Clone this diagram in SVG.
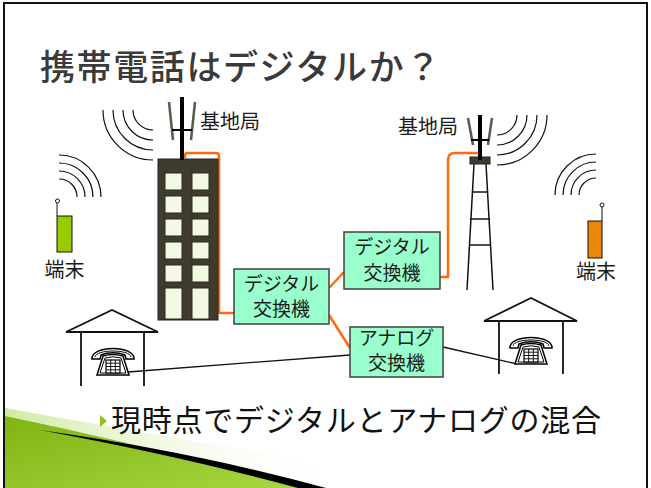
<svg xmlns="http://www.w3.org/2000/svg" width="651" height="488" viewBox="0 0 651 488">
  <style>
    .jp { font-family: "Noto Sans CJK JP", "Noto Sans", sans-serif; fill: #1a1a1a; }
    .lbl { font-size: 20px; }
    .box { fill: #99ffcc; stroke: #404040; stroke-width: 1.5; }
    .boxtxt { font-size: 19px; text-anchor: middle; }
    .wave { fill: none; stroke: #111; stroke-width: 1.2; }
    .orange { fill: none; stroke: #ff6a10; stroke-width: 2.5; stroke-linejoin: round; }
    .wire { fill: none; stroke: #111; stroke-width: 1.3; }
    .win { fill: #f2f8e2; stroke: #2a281f; stroke-width: 1; }
    .ant { stroke: #000; stroke-width: 4; }
    .fin { stroke: #5a5848; stroke-width: 2.5; }
    .house { fill: none; stroke: #111; stroke-width: 1.8; }
  </style>
  <defs>
    <linearGradient id="grass" x1="0" y1="0" x2="1" y2="1">
      <stop offset="0" stop-color="#7fb414"/>
      <stop offset="1" stop-color="#a8d640"/>
    </linearGradient>
    <linearGradient id="fade" x1="0" y1="0" x2="1" y2="0">
      <stop offset="0" stop-color="#d2e9a2"/>
      <stop offset="1" stop-color="#ffffff" stop-opacity="0"/>
    </linearGradient>
    <!-- desk telephone, centred on its own origin -->
    <g id="telephone">
      <path d="M-10,-5 Q0,-8 10,-5 L16,14 L-16,14 Z" fill="#fff" stroke="#000" stroke-width="1.5"/>
      <path d="M-8,-3 Q0,-5.5 8,-3 L13,12 L-13,12 Z" fill="none" stroke="#000" stroke-width="1"/>
      <path d="M-21,-2 C-22,-16 22,-16 21,-2 L13,-2 L12,-6 C5,-9 -5,-9 -12,-6 L-13,-2 Z" fill="#fff" stroke="#000" stroke-width="1.5"/>
      <path d="M-18,-4 C-17,-12 17,-12 18,-4" fill="none" stroke="#000" stroke-width="1"/>
      <rect x="-7" y="-1" width="14" height="13" fill="#fff" stroke="#000" stroke-width="1.2"/>
      <path d="M-2.3,-1 V12 M2.3,-1 V12 M-7,2.2 H7 M-7,5.5 H7 M-7,8.8 H7" stroke="#000" stroke-width="0.9"/>
    </g>
  </defs>

  <rect width="651" height="488" fill="#fff"/>

  <!-- slide frame -->
  <rect x="4" y="3" width="643" height="500" fill="none" stroke="#111" stroke-width="2"/>

  <!-- corner swoosh -->
  <g id="swoosh">
    <path d="M5,408 Q170,438 345,466 L345,488 L5,488 Z" fill="url(#fade)"/>
    <path d="M5,416 Q150,446 302,488 L5,488 Z" fill="url(#grass)"/>
    <path d="M40,430 Q180,456 298,488 L326,488 Q195,452 40,430 Z" fill="#000"/>
  </g>

  <!-- heading -->
  <g id="title">
    <text x="40" y="80" font-family="'Noto Sans CJK JP', sans-serif" font-size="35" font-weight="500" fill="#3a3a3a" letter-spacing="1.6">携帯電話はデジタルか？</text>
  </g>

  <!-- connectors -->
  <g id="connectors">
    <path class="orange" d="M185,158 V155 Q185,153 188,153 H216 Q219,153 219,156 V313 H234"/>
    <path class="orange" d="M440,277 H448 V160 Q448,153 455,153 H478"/>
    <path class="orange" d="M329,288 L344,272"/>
    <path class="orange" d="M329,315 L350,348"/>
    <path class="wire" d="M128,372 L350,355"/>
    <path class="wire" d="M443,347 L517,364"/>
  </g>

  <!-- office building with rooftop antenna -->
  <g id="building-left">
    <g class="wave">
      <path d="M133,110 A20,20 0 0 0 153,130"/>
      <path d="M123,110 A30,30 0 0 0 153,140"/>
      <path d="M113,110 A40,40 0 0 0 153,150"/>
      <path d="M103,110 A50,50 0 0 0 153,160"/>
    </g>
    <rect x="158" y="159" width="60" height="161" fill="#3f3b2e" stroke="#222" stroke-width="1"/>
    <g>
      <rect class="win" x="165" y="173" width="17" height="17"/>
      <rect class="win" x="192" y="173" width="17" height="17"/>
      <rect class="win" x="165" y="196" width="17" height="17"/>
      <rect class="win" x="192" y="196" width="17" height="17"/>
      <rect class="win" x="165" y="219" width="17" height="17"/>
      <rect class="win" x="192" y="219" width="17" height="17"/>
      <rect class="win" x="165" y="242" width="17" height="17"/>
      <rect class="win" x="192" y="242" width="17" height="17"/>
      <rect class="win" x="165" y="265" width="17" height="17"/>
      <rect class="win" x="192" y="265" width="17" height="17"/>
      <rect class="win" x="165" y="288" width="17" height="31"/>
      <rect class="win" x="192" y="288" width="17" height="31"/>
    </g>
    <line class="fin" x1="169" y1="102" x2="173" y2="140"/>
    <line class="fin" x1="195" y1="102" x2="191" y2="140"/>
    <line class="ant" x1="182" y1="97" x2="182" y2="160"/>
    <line x1="172" y1="130" x2="192" y2="130" stroke="#000" stroke-width="2"/>
    <text class="jp lbl" x="200" y="129">基地局</text>
  </g>

  <!-- lattice tower -->
  <g id="tower-right">
    <g class="wave">
      <path d="M517,115 A20,20 0 0 1 497,135"/>
      <path d="M527,115 A30,30 0 0 1 497,145"/>
      <path d="M537,115 A40,40 0 0 1 497,155"/>
      <path d="M547,115 A50,50 0 0 1 497,165"/>
    </g>
    <g stroke="#111" stroke-width="1.5">
      <line x1="474" y1="164" x2="467" y2="290"/>
      <line x1="486" y1="164" x2="493" y2="290"/>
      <line x1="472" y1="192" x2="488" y2="192"/>
      <line x1="470" y1="219" x2="490" y2="219"/>
      <line x1="469" y1="245" x2="491" y2="245"/>
    </g>
    <line class="fin" x1="468" y1="118" x2="473" y2="145"/>
    <line class="fin" x1="492" y1="118" x2="488" y2="145"/>
    <rect x="470" y="157" width="20" height="7" fill="#3f3b2e" stroke="#222" stroke-width="1"/>
    <line class="ant" x1="480" y1="115" x2="480" y2="160"/>
    <line x1="471" y1="140" x2="489" y2="140" stroke="#000" stroke-width="2"/>
    <text class="jp lbl" x="398" y="134">基地局</text>
  </g>

  <!-- handsets -->
  <g id="terminal-left">
    <g class="wave">
      <path d="M59,179 A18,18 0 0 1 77,197"/>
      <path d="M59,171 A26,26 0 0 1 85,197"/>
      <path d="M59,163 A34,34 0 0 1 93,197"/>
      <path d="M59,155 A42,42 0 0 1 101,197"/>
    </g>
    <line x1="57" y1="203" x2="57" y2="216" stroke="#111" stroke-width="1"/>
    <circle cx="57.5" cy="201" r="2" fill="#fff" stroke="#111" stroke-width="1"/>
    <rect x="57" y="216" width="15" height="36" fill="#99cc00" stroke="#111" stroke-width="1"/>
    <text class="jp lbl" x="64.5" y="277" text-anchor="middle">端末</text>
  </g>

  <g id="terminal-right">
    <g class="wave">
      <path d="M596,178 A17,17 0 0 0 579,195"/>
      <path d="M596,170 A25,25 0 0 0 571,195"/>
      <path d="M596,162 A33,33 0 0 0 563,195"/>
      <path d="M596,154 A41,41 0 0 0 555,195"/>
    </g>
    <line x1="602" y1="207" x2="602" y2="221" stroke="#111" stroke-width="1"/>
    <circle cx="602" cy="205" r="2" fill="#fff" stroke="#111" stroke-width="1"/>
    <rect x="588" y="221" width="14" height="37" fill="#e8870a" stroke="#111" stroke-width="1"/>
    <text class="jp lbl" x="596" y="279" text-anchor="middle">端末</text>
  </g>

  <!-- homes with fixed-line phones -->
  <g id="house-left">
    <path class="house" d="M66,332 L112,310 L158,332 Z M81,332 V386 M144,332 V386"/>
    <use href="#telephone" x="113" y="361"/>
  </g>

  <g id="house-right">
    <path class="house" d="M484,321 L531,298 L577,321 Z M499,321 V374 M563,321 V374"/>
    <use href="#telephone" x="531" y="350"/>
  </g>

  <!-- exchanges -->
  <g id="switch-digital-1">
    <rect class="box" x="234" y="269" width="95" height="55"/>
    <text class="jp boxtxt" x="281.5" y="291">デジタル</text>
    <text class="jp boxtxt" x="281.5" y="316">交換機</text>
  </g>

  <g id="switch-digital-2">
    <rect class="box" x="344" y="232" width="96" height="57"/>
    <text class="jp boxtxt" x="392" y="254">デジタル</text>
    <text class="jp boxtxt" x="392" y="280">交換機</text>
  </g>

  <g id="switch-analog">
    <rect class="box" x="350" y="327" width="93" height="50"/>
    <text class="jp boxtxt" x="396.5" y="345">アナログ</text>
    <text class="jp boxtxt" x="396.5" y="370">交換機</text>
  </g>

  <!-- bullet point -->
  <g id="caption">
    <path d="M100,415 L107,421 L100,427 Z" fill="#8fc31f"/>
    <text x="111" y="431" font-family="'Noto Sans CJK JP', sans-serif" font-size="30" fill="#111" letter-spacing="0.75">現時点でデジタルとアナログの混合</text>
  </g>
</svg>
